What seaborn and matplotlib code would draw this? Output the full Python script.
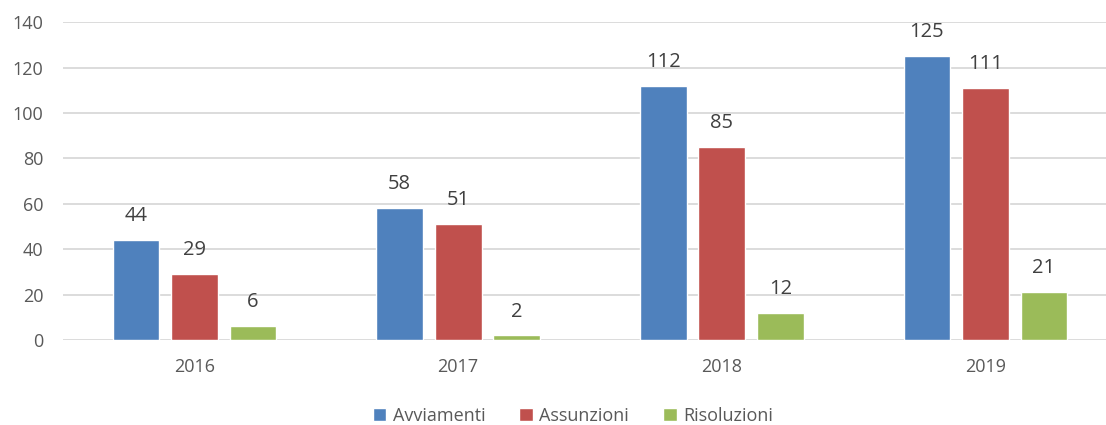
import pandas as pd
import matplotlib.pyplot as plt
import seaborn as sns

years = ['2016', '2017', '2018', '2019']
avviamenti = [44, 58, 112, 125]
assunzioni = [29, 51, 85, 111]
risoluzioni = [6, 2, 12, 21]
series = ['Avviamenti', 'Assunzioni', 'Risoluzioni']
colors = ['#4F81BD', '#C0504D', '#9BBB59']

df = pd.DataFrame({
    'anno': years * 3,
    'serie': [s for s in series for _ in years],
    'valore': avviamenti + assunzioni + risoluzioni,
})

sns.set_style('white')
plt.rcParams['font.family'] = ['Open Sans', 'DejaVu Sans']

fig = plt.figure(figsize=(11.06, 4.25), dpi=100)
# plot area runs a little past the right edge, as in the original crop
ax = fig.add_axes([0.0567, 0.2, 0.9535, 0.748])

sns.barplot(data=df, x='anno', y='valore', hue='serie', palette=colors,
            width=0.666, gap=0.2, saturation=1, ax=ax, legend=True)

for c in ax.containers:
    ax.bar_label(c, padding=10, fontsize=14.5, color='#404040')

ax.set_ylim(0, 140)
ax.set_yticks(range(0, 141, 20))
ax.yaxis.grid(True, color='#D9D9D9', linewidth=1.3)
ax.set_axisbelow(True)
for s in ax.spines.values():
    s.set_visible(False)
ax.tick_params(axis='both', length=0, labelsize=13, colors='#595959')
ax.tick_params(axis='y', pad=14)
ax.tick_params(axis='x', pad=13)
ax.set_xlabel('')
ax.set_ylabel('')

ax.legend(loc='center', bbox_to_anchor=(0.518, 0.022), bbox_transform=fig.transFigure,
          ncol=3, frameon=False, fontsize=13, handlelength=0.75, handleheight=0.75,
          columnspacing=1.9, handletextpad=0.35, labelcolor='#595959')

fig.savefig('out.png', dpi=100)
